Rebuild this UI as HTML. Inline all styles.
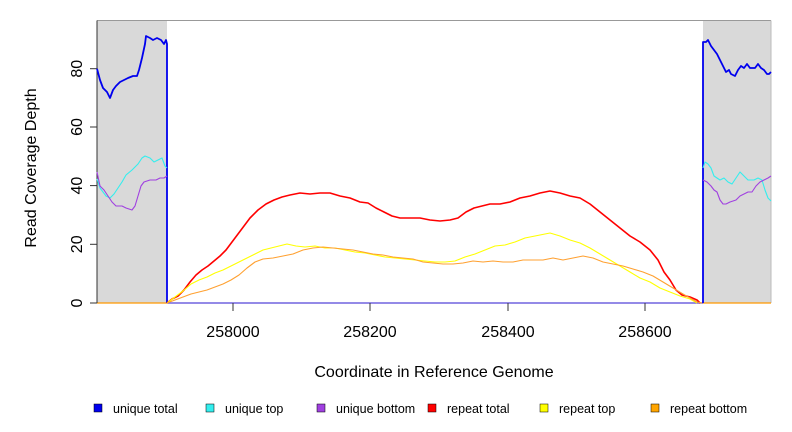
<!DOCTYPE html>
<html><head><style>body{margin:0;background:#fff}svg{display:block}</style></head><body>
<svg width="792" height="432" xmlns="http://www.w3.org/2000/svg" font-family="Liberation Sans, sans-serif">
<rect x="97" y="20.5" width="70" height="282.5" fill="#d9d9d9"/>
<rect x="703" y="20.5" width="68" height="282.5" fill="#d9d9d9"/>
<line x1="97" y1="20.5" x2="771" y2="20.5" stroke="#999"/>
<line x1="771" y1="20.5" x2="771" y2="303" stroke="#bbb"/>
<line x1="97" y1="303" x2="771" y2="303" stroke="#ff9900" stroke-width="1.2"/>
<line x1="167" y1="303" x2="703" y2="303" stroke="#5555ff" stroke-width="1.2"/>
<line x1="97" y1="20.5" x2="97" y2="303" stroke="#333"/>
<g stroke="#333">
<line x1="90" y1="303" x2="97" y2="303"/><line x1="90" y1="244.3" x2="97" y2="244.3"/><line x1="90" y1="185.6" x2="97" y2="185.6"/><line x1="90" y1="127" x2="97" y2="127"/><line x1="90" y1="68.7" x2="97" y2="68.7"/>
<line x1="233" y1="303" x2="233" y2="311"/><line x1="370" y1="303" x2="370" y2="311"/><line x1="508" y1="303" x2="508" y2="311"/><line x1="645" y1="303" x2="645" y2="311"/>
</g>
<g font-size="16" text-anchor="middle" fill="#000">
<text transform="translate(82,303) rotate(-90)">0</text>
<text transform="translate(82,244.3) rotate(-90)">20</text>
<text transform="translate(82,185.6) rotate(-90)">40</text>
<text transform="translate(82,127) rotate(-90)">60</text>
<text transform="translate(82,68.7) rotate(-90)">80</text>
<text x="233" y="337">258000</text><text x="370" y="337">258200</text><text x="508" y="337">258400</text><text x="645" y="337">258600</text>
<text x="434" y="377">Coordinate in Reference Genome</text>
<text transform="translate(36,168) rotate(-90)">Read Coverage Depth</text>
</g>
<g fill="none" stroke-linejoin="round">
<polyline stroke="#0000ee" stroke-width="1.8" points="97,68.7 100,80 103,88 107,92 110,98 113,90 116,86 120,82 124,80 128,78 133,76 137,76 139,70 142,58 145,44 146,36 150,38 153,40 157,38 161,40 164,44 166,40 167,44 167,303"/>
<polyline stroke="#0000ee" stroke-width="1.8" points="703,303 703,42 706,42 708,40 711,46 714,50 717,54 720,60 723,66 726,72 729,70 731,74 735,76 738,70 741,66 744,68 747,64 750,68 755,68 758,64 761,68 764,70 767,74 769,74 771,72"/>
<polyline stroke="#33eeee" stroke-width="1.1" points="97,179 100,188 103,192 106,196 110,198 114,194 118,188 122,182 126,175 132,170 138,164 142,158 145,156 150,158 154,162 158,160 162,158 165,166 167,168"/>
<polyline stroke="#a040e0" stroke-width="1.1" points="97,172 100,186 104,190 108,196 112,202 116,206 122,206 126,208 132,210 135,206 138,196 141,186 144,182 150,180 156,180 160,178 164,178 167,176"/>
<polyline stroke="#33eeee" stroke-width="1.1" points="703,168 705,162 708,164 711,168 714,176 717,178 720,180 724,178 728,182 732,184 736,178 740,172 744,176 748,180 754,180 758,178 762,180 765,190 768,198 771,201"/>
<polyline stroke="#a040e0" stroke-width="1.1" points="703,180 707,182 711,186 714,190 717,192 720,200 723,204 726,204 730,202 736,200 740,196 744,194 748,192 752,192 756,186 760,182 764,180 768,178 771,176"/>
<polyline stroke="#ff0000" stroke-width="1.6" points="167,303 172,299 178,296 184,290 190,282 196,275 202,270 208,266 214,261 220,256 226,250 232,242 238,234 244,226 250,218 258,210 266,204 274,200 282,197 290,195 300,193 310,194 320,193 330,193 340,196 350,198 360,202 368,203 376,208 384,212 392,216 400,218 410,218 420,218 430,220 440,221 450,220 458,218 466,212 474,208 482,206 490,204 500,204 510,202 520,198 530,196 540,193 550,191 560,193 570,196 580,198 590,204 600,212 610,220 620,228 630,236 640,242 650,250 658,260 664,272 670,280 676,290 682,295 690,297 697,300 700,303"/>
<polyline stroke="#ffff00" stroke-width="1.1" points="167,303 175,297 183,291 191,284 199,280 207,277 215,273 223,270 231,266 239,262 247,258 255,254 263,250 271,248 279,246 287,244 296,246 305,247 315,246 325,248 335,248 345,250 355,252 365,253 375,255 385,257 395,258 405,259 415,260 425,261 435,262 445,262 455,261 465,257 475,254 485,250 495,246 505,245 515,242 525,238 535,236 545,234 550,233 560,236 570,240 580,243 590,248 600,254 610,260 620,266 630,272 640,278 650,282 660,288 670,292 680,296 690,299 697,303"/>
<polyline stroke="#ffa030" stroke-width="1.1" points="167,303 175,300 183,297 191,294 199,292 207,290 215,287 223,284 231,280 239,275 247,268 255,262 263,259 273,258 283,256 293,254 303,250 313,248 323,247 333,248 343,249 353,250 363,252 373,254 383,255 393,257 403,258 413,259 423,262 433,263 443,264 453,264 463,263 473,261 483,262 493,261 503,262 513,262 523,260 533,260 543,260 553,258 563,260 573,258 583,256 593,258 603,262 613,264 623,266 633,269 643,272 653,276 663,282 673,288 683,294 690,298 697,302 702,303"/>
</g>
<g font-size="12.5" fill="#000">
<rect x="94" y="404" width="8" height="8" fill="#0000ee" stroke="#000" stroke-width="0.5"/><text x="113" y="413">unique total</text>
<rect x="206" y="404" width="8" height="8" fill="#33eeee" stroke="#000" stroke-width="0.5"/><text x="225" y="413">unique top</text>
<rect x="317" y="404" width="8" height="8" fill="#a040e0" stroke="#000" stroke-width="0.5"/><text x="336" y="413">unique bottom</text>
<rect x="428" y="404" width="8" height="8" fill="#ff0000" stroke="#000" stroke-width="0.5"/><text x="447" y="413">repeat total</text>
<rect x="540" y="404" width="8" height="8" fill="#ffff00" stroke="#000" stroke-width="0.5"/><text x="559" y="413">repeat top</text>
<rect x="651" y="404" width="8" height="8" fill="#ffa500" stroke="#000" stroke-width="0.5"/><text x="670" y="413">repeat bottom</text>
</g>
</svg>
</body></html>
